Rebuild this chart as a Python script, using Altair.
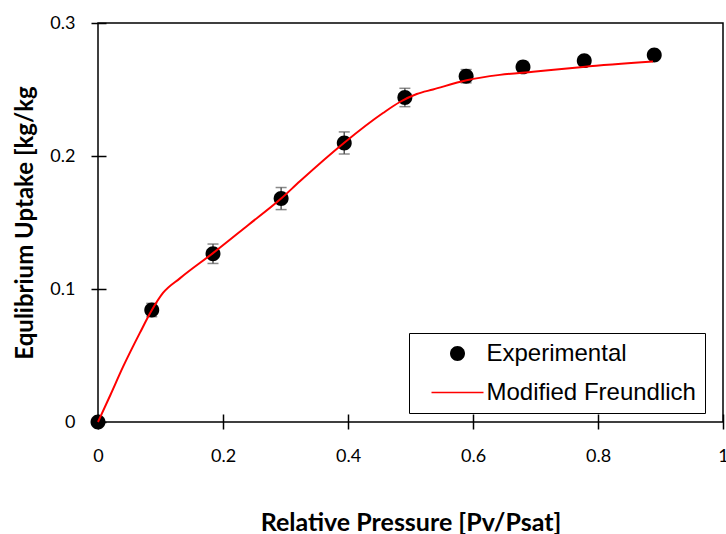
import altair as alt
import pandas as pd

# Experimental data
rel_p = [0.0, 0.086, 0.184, 0.293, 0.394, 0.491, 0.589, 0.680, 0.778, 0.890]
uptake = [0.0, 0.0842, 0.1265, 0.168, 0.2098, 0.244, 0.260, 0.267, 0.2717, 0.276]
err = [0.0, 0.005, 0.0073, 0.0083, 0.0083, 0.0069, 0.005, 0.004, 0.003, 0.002]

# Modified Freundlich fit curve
fit_p = [0.0, 0.02, 0.04, 0.067, 0.086, 0.104, 0.131, 0.184, 0.24, 0.293, 0.323,
         0.394, 0.456, 0.483, 0.51, 0.536, 0.59, 0.643, 0.696, 0.776, 0.888]
fit_q = [0.0, 0.0205, 0.0414, 0.067, 0.084, 0.097, 0.108, 0.127, 0.148, 0.168, 0.181,
         0.210, 0.2323, 0.2406, 0.2466, 0.250, 0.257, 0.261, 0.2634, 0.267, 0.271]

series = ["Experimental", "Modified Freundlich"]

exp_df = pd.DataFrame({
    "p": rel_p, "q": uptake,
    "lo": [q - e for q, e in zip(uptake, err)],
    "hi": [q + e for q, e in zip(uptake, err)],
    "series": series[0],
})
fit_df = pd.DataFrame({"p": fit_p, "q": fit_q, "series": series[1]})

circle_path = "M0,-1.15A1.15,1.15 0 1,1 0,1.15A1.15,1.15 0 1,1 0,-1.15Z"
line_path = "M-4,-0.12L4,-0.12L4,0.12L-4,0.12Z"

xscale = alt.Scale(domain=[0, 1], nice=False)
yscale = alt.Scale(domain=[0, 0.3], nice=False)

xaxis = alt.Axis(values=[0, 0.2, 0.4, 0.6, 0.8, 1], format="~g", title="Relative Pressure [Pv/Psat]",
                 offset=-8, tickSize=15, domain=False, grid=False, labelPadding=18,
                 labelFlush=False, titleFontSize=25,
                 titleY=116, titleBaseline="alphabetic")
yaxis = alt.Axis(values=[0, 0.1, 0.2, 0.3], format="~g", title="Equlibrium Uptake [kg/kg",
                 offset=-8, tickSize=15, domain=False, grid=False, labelPadding=16,
                 labelFlush=False, titleFontSize=24,
                 titleX=-81, titleBaseline="middle")

color = alt.Color("series:N", scale=alt.Scale(domain=series, range=["black", "red"]),
                  legend=alt.Legend(title=None, orient="none", legendX=311, legendY=310,
                                    strokeColor="black", fillColor="white", padding=8.5,
                                    symbolSize=169, symbolOffset=28, labelOffset=17,
                                    rowPadding=15, labelLimit=0,
                                    labelExpr="datum.label + '\u00a0\u00a0'",
                                    symbolStrokeWidth=0, symbolOpacity=1,
                                    labelFont="Liberation Sans", labelFontSize=24,
                                    labelColor="black"))
shape = alt.Shape("series:N", scale=alt.Scale(domain=series, range=[circle_path, line_path]))

base_exp = alt.Chart(exp_df)

bars = base_exp.mark_rule(color="#595959", strokeWidth=1.5).encode(
    x=alt.X("p:Q", scale=xscale, axis=xaxis),
    y=alt.Y("lo:Q", scale=yscale, axis=yaxis),
    y2="hi:Q",
)
caps_lo = base_exp.mark_tick(color="#595959", size=11, thickness=1.5, orient="horizontal").encode(
    x="p:Q", y="lo:Q")
caps_hi = base_exp.mark_tick(color="#595959", size=11, thickness=1.5, orient="horizontal").encode(
    x="p:Q", y="hi:Q")

points = base_exp.mark_point(filled=True, size=169, opacity=1).encode(
    x="p:Q", y="q:Q", color=color, shape=shape)

line = alt.Chart(fit_df).mark_line(strokeWidth=2, interpolate="monotone").encode(
    x="p:Q", y="q:Q", color=color)

chart = alt.layer(bars, caps_lo, caps_hi, points, line).properties(
    width=625, height=399,
    background="white",
    autosize=alt.AutoSizeParams(type="none"),
    padding={"left": 98, "top": 23, "right": 3, "bottom": 112},
).configure_view(stroke="black", strokeWidth=1.5).configure_axis(
    labelFont="Lato", labelFontSize=18, labelColor="black",
    titleFont="Lato", titleFontWeight="bold", titleColor="black",
    tickColor="black", tickWidth=1.5,
)

chart.save("out.html", embed_options={"renderer": "svg", "actions": False})
